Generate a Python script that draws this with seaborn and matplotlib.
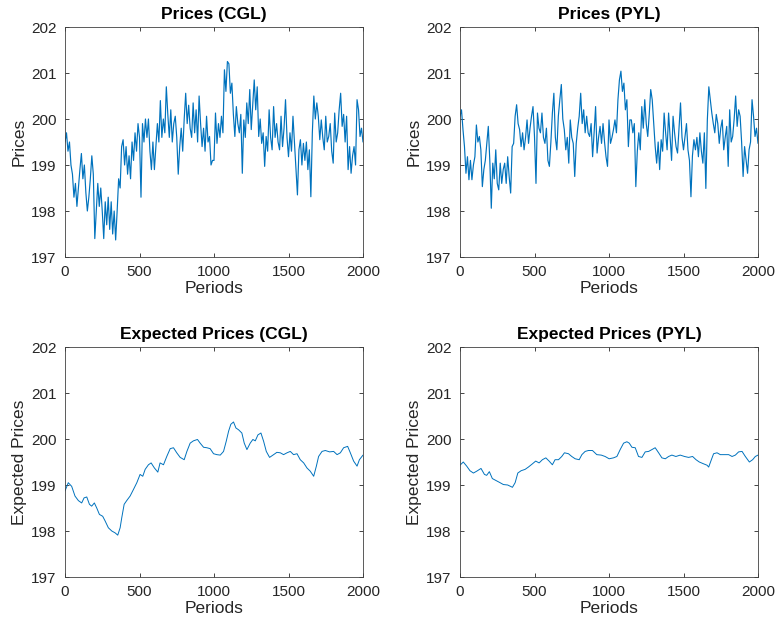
import matplotlib
matplotlib.use("Agg")
import matplotlib.pyplot as plt
import seaborn as sns
import pandas as pd

# values, one every 10 periods for the price panels
price_periods = list(range(0, 2001, 10))
cgl_prices = [
    199.5, 199.7, 199.3, 199.5, 199.0, 198.8, 198.3, 198.6, 198.1, 198.5,
    198.9, 199.25, 198.7, 199.0, 198.4, 198.0, 198.3, 198.7, 199.2, 198.8,
    197.4, 198.0, 198.6, 198.1, 198.5, 198.0, 197.4, 198.2, 197.7, 198.3,
    197.6, 198.2, 197.5, 198.0, 197.37, 198.0, 198.7, 198.5, 199.4, 199.55,
    199.0, 199.4, 198.8, 199.2, 198.7, 199.5, 199.1, 199.7, 199.3, 199.9,
    199.6, 198.3, 199.9, 199.5, 200.0, 199.6, 200.0, 199.3, 198.9, 199.5,
    198.9, 199.4, 199.9, 199.5, 200.4, 199.6, 200.0, 199.7, 200.7, 200.1,
    199.6, 200.2, 199.5, 199.9, 200.06, 199.6, 198.8, 199.4, 199.8, 199.3,
    200.0, 200.56, 199.9, 200.3, 199.8, 199.6, 200.35, 199.7, 200.2, 199.5,
    200.5, 199.9, 199.4, 199.8, 199.3, 200.06, 199.5, 199.62, 199.0, 199.1,
    199.1, 200.13, 199.47, 199.9, 199.6, 200.06, 199.7, 201.07, 200.6, 201.25,
    201.2, 200.56, 200.78, 200.1, 199.62, 200.27, 199.9, 199.7, 200.1, 198.82,
    199.98, 199.6, 200.35, 199.9, 200.64, 199.77, 200.3, 200.85, 200.2, 200.7,
    199.62, 200.0, 199.47, 199.7, 198.97, 199.62, 199.3, 200.2, 199.6, 199.33,
    200.27, 199.6, 199.9, 199.5, 199.33, 200.06, 199.4, 199.8, 200.42, 199.6,
    199.18, 199.7, 199.3, 200.06, 199.5, 198.9, 198.35, 199.33, 199.55, 199.0,
    199.47, 199.1, 199.5, 198.9, 199.33, 198.31, 199.7, 200.5, 200.0, 200.35,
    200.06, 199.55, 199.98, 199.6, 199.33, 200.06, 199.5, 199.62, 199.9, 199.3,
    199.04, 200.13, 199.5, 199.7, 200.2, 200.56, 199.84, 200.1, 199.5, 200.06,
    198.9, 199.4, 198.82, 199.2, 199.4, 199.0, 200.42, 200.2, 199.62, 199.8,
    199.5,
]
pyl_prices = [
    200.06, 200.2, 199.77, 199.4, 198.82, 199.18, 198.68, 199.1, 198.68, 199.0,
    199.18, 199.87, 199.5, 199.62, 199.33, 198.53, 198.9, 199.1, 199.47, 199.84,
    199.1, 198.06, 199.04, 198.7, 199.33, 198.6, 198.46, 199.04, 198.6, 198.9,
    199.04, 198.6, 199.18, 198.75, 198.39, 199.4, 199.47, 200.06, 200.31, 199.9,
    199.77, 199.4, 199.7, 199.33, 199.6, 199.98, 199.47, 199.8, 200.06, 200.27,
    199.62, 198.6, 200.13, 199.8, 199.7, 200.13, 199.6, 199.47, 199.8, 199.1,
    198.97, 199.5, 200.13, 200.56, 199.6, 199.33, 200.06, 200.42, 200.75, 200.0,
    199.77, 199.33, 199.6, 199.04, 199.98, 199.6, 199.47, 198.75, 199.47, 199.8,
    200.06, 200.56, 199.9, 200.2, 199.7, 200.06, 199.7, 199.62, 199.9, 199.18,
    199.7, 200.27, 199.26, 199.6, 199.84, 199.47, 199.9, 199.5, 199.18, 198.97,
    199.98, 199.47, 199.6, 199.77, 199.98, 199.7, 200.42, 200.85, 201.04, 200.6,
    200.78, 200.2, 200.42, 199.4, 199.98, 199.98, 199.7, 199.9, 198.53, 199.3,
    199.7, 199.33, 200.27, 199.8, 200.42, 199.9, 199.62, 200.1, 200.64, 200.42,
    199.9, 199.4, 199.04, 199.5, 198.9, 199.55, 199.3, 200.13, 199.7, 199.33,
    200.13, 199.6, 199.1, 200.06, 199.7, 199.4, 199.26, 199.8, 200.35, 199.6,
    199.33, 199.62, 199.9, 199.33, 199.1, 198.31, 199.2, 199.55, 199.33, 199.6,
    199.18, 199.7, 199.3, 199.04, 199.7, 198.49, 199.98, 200.7, 200.42, 200.13,
    199.9, 199.7, 200.1, 199.9, 199.47, 199.8, 199.98, 199.33, 199.6, 199.84,
    198.97, 200.2, 199.5, 199.62, 200.0, 200.5, 199.84, 200.2, 200.06, 199.5,
    198.75, 199.4, 199.1, 198.82, 199.33, 199.5, 200.42, 200.06, 199.62, 199.8,
    199.47,
]

exp_cgl_periods = [0, 22, 45, 67, 90, 112, 128, 146, 164, 179, 197, 213, 231, 253, 269, 291, 314, 336, 354,
                   370, 381, 397, 414, 437, 459, 482, 504, 522, 538, 560, 578, 600, 623, 638, 661, 683, 706,
                   728, 750, 773, 800, 818, 840, 862, 889, 907, 930, 952, 974, 997, 1019, 1042, 1064, 1082,
                   1098, 1113, 1131, 1147, 1165, 1187, 1203, 1221, 1243, 1261, 1277, 1295, 1315, 1333, 1351,
                   1373, 1400, 1422, 1445, 1467, 1490, 1512, 1534, 1557, 1579, 1602, 1624, 1646, 1669, 1687,
                   1702, 1725, 1747, 1776, 1803, 1826, 1848, 1870, 1897, 1915, 1937, 1960, 1976, 2000]
exp_cgl_prices = [198.87, 199.05, 198.97, 198.76, 198.66, 198.61, 198.72, 198.74, 198.58, 198.54, 198.61,
                  198.5, 198.36, 198.32, 198.22, 198.07, 198.0, 197.96, 197.91, 198.07, 198.29, 198.58,
                  198.66, 198.76, 198.9, 199.05, 199.23, 199.19, 199.34, 199.44, 199.48, 199.37, 199.28,
                  199.48, 199.44, 199.62, 199.79, 199.81, 199.7, 199.6, 199.55, 199.73, 199.91, 199.96,
                  199.99, 199.91, 199.82, 199.81, 199.79, 199.68, 199.66, 199.65, 199.73, 199.95, 200.17,
                  200.32, 200.37, 200.24, 200.2, 200.13, 199.91, 199.77, 199.91, 199.99, 199.96, 200.09,
                  200.13, 199.95, 199.73, 199.6, 199.66, 199.71, 199.7, 199.66, 199.7, 199.73, 199.66,
                  199.68, 199.55, 199.48, 199.37, 199.3, 199.19, 199.41, 199.62, 199.73, 199.75, 199.72,
                  199.73, 199.66, 199.7, 199.81, 199.84, 199.7, 199.52, 199.41, 199.55, 199.65]

exp_pyl_periods = [0, 22, 45, 67, 90, 112, 141, 164, 179, 197, 217, 240, 269, 291, 320, 352, 370, 388, 410,
                   437, 459, 486, 508, 531, 553, 576, 598, 620, 638, 661, 683, 701, 728, 750, 773, 800, 818,
                   840, 862, 889, 918, 948, 974, 1001, 1030, 1053, 1075, 1098, 1120, 1136, 1154, 1176, 1198,
                   1221, 1243, 1266, 1288, 1310, 1333, 1355, 1378, 1400, 1422, 1449, 1478, 1507, 1534, 1561,
                   1584, 1606, 1635, 1658, 1669, 1687, 1702, 1725, 1747, 1776, 1803, 1826, 1848, 1870, 1893,
                   1915, 1942, 1964, 1982, 2000]
exp_pyl_prices = [199.43, 199.5, 199.41, 199.31, 199.26, 199.3, 199.36, 199.23, 199.21, 199.29, 199.14,
                  199.1, 199.05, 199.01, 199.0, 198.95, 199.05, 199.26, 199.31, 199.34, 199.39, 199.46,
                  199.52, 199.48, 199.55, 199.59, 199.52, 199.44, 199.55, 199.55, 199.62, 199.7, 199.68,
                  199.62, 199.57, 199.55, 199.66, 199.73, 199.75, 199.75, 199.66, 199.65, 199.62, 199.57,
                  199.59, 199.62, 199.77, 199.91, 199.94, 199.91, 199.82, 199.81, 199.62, 199.6, 199.72,
                  199.73, 199.77, 199.81, 199.7, 199.59, 199.57, 199.62, 199.65, 199.62, 199.65, 199.62,
                  199.6, 199.62, 199.55, 199.5, 199.46, 199.43, 199.39, 199.55, 199.68, 199.7, 199.66,
                  199.66, 199.66, 199.62, 199.65, 199.72, 199.73, 199.62, 199.5, 199.55, 199.62, 199.65]

line_color = "#0072BD"
text_color = "#262626"

sns.set_style("white")
plt.rcParams['font.family'] = ['Liberation Sans', 'DejaVu Sans']

fig = plt.figure(figsize=(7.75, 6.25), dpi=100)
positions = {
    "tl": [65 / 775, 1 - 257 / 625, 298 / 775, 230 / 625],
    "tr": [460 / 775, 1 - 257 / 625, 298 / 775, 230 / 625],
    "bl": [65 / 775, 1 - 577 / 625, 298 / 775, 230 / 625],
    "br": [460 / 775, 1 - 577 / 625, 298 / 775, 230 / 625],
}

panels = [
    ("tl", price_periods, cgl_prices, "Prices (CGL)", "Prices", 0.85),
    ("tr", price_periods, pyl_prices, "Prices (PYL)", "Prices", 0.85),
    ("bl", exp_cgl_periods, exp_cgl_prices, "Expected Prices (CGL)", "Expected Prices", 0.7),
    ("br", exp_pyl_periods, exp_pyl_prices, "Expected Prices (PYL)", "Expected Prices", 0.7),
]

for key, xs, ys, title, ylabel, lw in panels:
    ax = fig.add_axes(positions[key])
    df = pd.DataFrame({"Periods": xs, "value": ys})
    sns.lineplot(data=df, x="Periods", y="value", ax=ax, color=line_color, linewidth=lw,
                 estimator=None, sort=False)
    ax.set_xlim(0, 2000)
    ax.set_ylim(197, 202)
    ax.set_xticks([0, 500, 1000, 1500, 2000])
    ax.set_yticks([197, 198, 199, 200, 201, 202])
    ax.set_title(title, fontsize=12.5, fontweight="bold", color="black", pad=6)
    ax.set_xlabel("Periods", fontsize=12.5, color=text_color, labelpad=1)
    ax.set_ylabel(ylabel, fontsize=12.5, color=text_color, labelpad=3)
    ax.tick_params(direction="in", length=3, width=0.6, colors=text_color, labelsize=11, pad=6,
                   top=True, right=True, bottom=True, left=True)
    for spine in ax.spines.values():
        spine.set_color("#404040")
        spine.set_linewidth(0.6)

fig.savefig("out.png", dpi=100)
